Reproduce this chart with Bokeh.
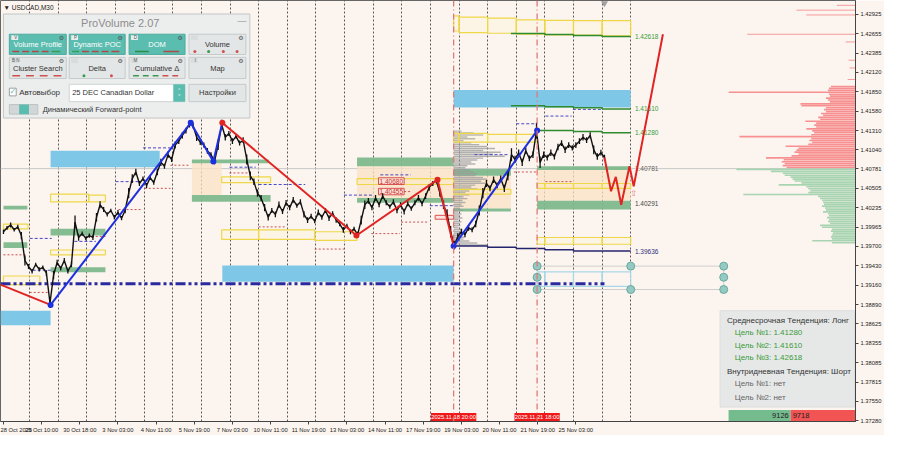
from bokeh.plotting import figure
from bokeh.models import Range1d, FixedTicker, PrintfTickFormatter, Span
from bokeh.core.properties import value
from bokeh.embed import file_html
from bokeh.resources import INLINE

BG = "#fcf5ef"
FONT = "Liberation Sans"

# ---------------- DATA ----------------
symbol_title = "\u25bc USDCAD,M30"
bar_step = 6            # M30 bars between sampled closes (bar 0 = 28 Oct 2025 02:00)
closes = [
    1.39904, 1.39958, 1.39998, 1.39931, 1.39971, 1.39851, 1.39503, 1.39422, 1.39355, 1.39449,
    1.39382, 1.39409, 1.39329, 1.38914, 1.39302, 1.39476, 1.39396, 1.39503, 1.39355, 1.39449,
    1.40038, 1.39824, 1.39878, 1.39811, 1.39851, 1.39824, 1.40105, 1.40279, 1.40212, 1.40145,
    1.40199, 1.40105, 1.40172, 1.40092, 1.40199, 1.40440, 1.40641, 1.40734, 1.40574, 1.40641,
    1.40547, 1.40654, 1.40587, 1.40734, 1.40868, 1.40815, 1.40975, 1.40908, 1.41109, 1.41163,
    1.41243, 1.41310, 1.41404, 1.41377, 1.41216, 1.41149, 1.41109, 1.41029, 1.40975, 1.40881,
    1.41109, 1.41390, 1.41216, 1.41270, 1.41163, 1.41230, 1.41136, 1.41176, 1.40908, 1.40681,
    1.40600, 1.40440, 1.40373, 1.40239, 1.40105, 1.40199, 1.40145, 1.40279, 1.40185, 1.40306,
    1.40239, 1.40346, 1.40266, 1.40319, 1.40145, 1.40065, 1.40118, 1.40052, 1.40172, 1.40105,
    1.40199, 1.40092, 1.40159, 1.40065, 1.40011, 1.39931, 1.39985, 1.39904, 1.39944, 1.39864,
    1.40065, 1.40279, 1.40333, 1.40239, 1.40373, 1.40279, 1.40400, 1.40306, 1.40252, 1.40319,
    1.40199, 1.40279, 1.40185, 1.40293, 1.40226, 1.40306, 1.40373, 1.40293, 1.40400, 1.40520,
    1.40574, 1.40614, 1.40440, 1.40279, 1.40145, 1.39904, 1.39717, 1.39837, 1.39904, 1.39864,
    1.39958, 1.39931, 1.40011, 1.40199, 1.40440, 1.40574, 1.40507, 1.40627, 1.40547, 1.40641,
    1.40507, 1.40681, 1.40975, 1.40908, 1.41002, 1.40868, 1.41029, 1.40922, 1.40975, 1.41310,
    1.40868, 1.40975, 1.40935, 1.41002, 1.40948, 1.41082, 1.41136, 1.41042, 1.41109, 1.41069,
    1.41109, 1.41163, 1.41216, 1.41176, 1.41243, 1.41042, 1.40948, 1.41002, 1.40935,
]
# high-low range of each sampled stretch, in pips
bar_ranges = [
    6, 5, 7, 5, 6, 10, 14, 7, 6, 5,
    6, 5, 8, 14, 12, 8, 6, 7, 6, 8,
    18, 9, 6, 5, 6, 7, 12, 10, 7, 6,
    5, 6, 7, 6, 8, 14, 12, 9, 7, 6,
    7, 6, 6, 9, 10, 7, 9, 7, 10, 8,
    9, 8, 10, 8, 10, 8, 7, 8, 7, 8,
    14, 14, 9, 7, 8, 6, 7, 8, 14, 12,
    9, 10, 8, 10, 9, 7, 8, 9, 7, 8,
    7, 8, 6, 7, 9, 8, 7, 6, 8, 7,
    7, 8, 6, 7, 6, 8, 6, 7, 6, 8,
    12, 12, 8, 7, 8, 7, 8, 7, 6, 7,
    8, 7, 8, 7, 6, 7, 8, 7, 8, 9,
    7, 8, 10, 12, 14, 16, 12, 9, 8, 7,
    8, 7, 9, 14, 14, 10, 8, 9, 8, 9,
    10, 12, 18, 10, 9, 10, 9, 8, 9, 22,
    16, 9, 8, 9, 8, 9, 8, 9, 8, 7,
    8, 8, 9, 8, 9, 12, 9, 8, 8,
]
pip = 0.0001
bid_price = 1.40781

time_ticks = [0, 64, 128, 192, 256, 320, 384, 448, 512, 576, 640, 704, 768, 832, 896, 960]
time_labels = ["28 Oct 2025", "29 Oct 10:00", "30 Oct 18:00", "3 Nov 03:00", "4 Nov 11:00",
               "5 Nov 19:00", "7 Nov 03:00", "10 Nov 11:00", "11 Nov 19:00", "13 Nov 03:00",
               "14 Nov 11:00", "17 Nov 19:00", "19 Nov 03:00", "20 Nov 11:00", "21 Nov 19:00",
               "25 Nov 03:00"]
day_breaks = [44, 92, 140, 188, 236, 284, 332, 380, 428, 476, 524, 572, 620, 668, 716, 764,
              812, 860, 908, 956, 1004, 1052]
price_ticks = [1.42925, 1.42655, 1.42385, 1.42120, 1.41850, 1.41580, 1.41310, 1.41040, 1.40781,
               1.40505, 1.40235, 1.39965, 1.39700, 1.39430, 1.39160, 1.38890, 1.38625,
               1.38355, 1.38085, 1.37815, 1.37550, 1.37280]
marker_bars = [755, 895]
marker_texts = ["2025.11.18 20:00", "2025.11.21 18:00"]
marker_halfwidth = 38          # in bars
marker_height = 0.00118        # in price

# zigzag
zz_bars = [-5, 79, 314, 352, 367, 592, 728, 755, 895]
zz_prices = [1.39168, 1.38887, 1.41417, 1.40881, 1.41417, 1.39851, 1.40627, 1.39704, 1.41310]
zz_seg_colors = ["red", "blue", "blue", "blue", "red", "red", "red", "blue"]
zz_dot_colors = ["blue", "blue", "blue", "red", "red", "red", "blue", "blue"]
# forecast path
fc_bars = [1008, 1019, 1027, 1036, 1050, 1057, 1106]
fc_prices = [1.40935, 1.40467, 1.40667, 1.40279, 1.40815, 1.40534, 1.42648]

# zones (left bar, right bar, top price, bottom price)
sky_zones = [(79, 262, 1.41029, 1.40801), (-5, 79, 1.38807, 1.38606),
             (367, 755, 1.39436, 1.39208), (755, 1052, 1.41872, 1.41631)]
green_zones = [(0, 40, 1.40266, 1.40212), (0, 40, 1.39757, 1.39677),
               (79, 171, 1.39944, 1.39851), (79, 171, 1.39409, 1.39342),
               (316, 445, 1.40908, 1.40855), (316, 448, 1.40413, 1.40319),
               (593, 755, 1.40935, 1.40815), (593, 755, 1.40373, 1.40306),
               (755, 851, 1.40774, 1.40681), (755, 851, 1.40226, 1.40185),
               (895, 1052, 1.40815, 1.40761), (895, 1052, 1.40333, 1.40212)]
orange_zones = [(316, 366, 1.40855, 1.40413), (593, 755, 1.40815, 1.40373),
                (895, 1052, 1.40761, 1.40333), (755, 851, 1.40681, 1.40226)]
yellow_boxes = [(79, 143, 1.40427, 1.40319), (143, 171, 1.40413, 1.40319),
                (79, 171, 1.39650, 1.39583), (0, 61, 1.39289, 1.39168),
                (0, 41, 1.40011, 1.39944), (366, 448, 1.40667, 1.40587),
                (366, 428, 1.39931, 1.39797), (428, 522, 1.39931, 1.39797),
                (522, 593, 1.39904, 1.39784), (593, 755, 1.40641, 1.40560),
                (755, 764, 1.41270, 1.41149), (764, 812, 1.41270, 1.41149),
                (812, 860, 1.41256, 1.41149), (860, 895, 1.41256, 1.41149),
                (755, 851, 1.40493, 1.40427),
                (755, 764, 1.42903, 1.42693), (764, 812, 1.42885, 1.42671),
                (812, 860, 1.42872, 1.42662), (860, 908, 1.42849, 1.42648),
                (908, 956, 1.42840, 1.42639), (956, 1004, 1.42836, 1.42635),
                (1004, 1052, 1.42836, 1.42626),
                (895, 908, 1.40574, 1.40507), (908, 956, 1.40574, 1.40507),
                (956, 1004, 1.40574, 1.40507), (1004, 1052, 1.40574, 1.40507),
                (895, 908, 1.39824, 1.39730), (908, 956, 1.39824, 1.39730),
                (956, 1004, 1.39824, 1.39730), (1004, 1052, 1.39824, 1.39730)]
cyan_boxes = [(895, 908, 1.39346, 1.39145), (908, 956, 1.39346, 1.39145),
              (956, 1004, 1.39346, 1.39145), (1004, 1052, 1.39346, 1.39145)]
red_boxes = [(629, 672, 1.40654, 1.40560), (629, 672, 1.40507, 1.40417), (724, 755, 1.40132, 1.40078)]
red_box_texts = ["1.40680", "1.40455"]

blue_dashes = [(234, 280, 1.41069), (188, 231, 1.40600), (44, 81, 1.39811), (49, 82, 1.39369),
               (119, 155, 1.39770), (379, 423, 1.40801), (428, 506, 1.40560), (571, 621, 1.40413),
               (632, 683, 1.40694), (715, 755, 1.40266), (860, 895, 1.41404), (909, 953, 1.41511),
               (955, 1003, 1.41604), (790, 846, 1.40975)]
red_dots = [(280, 313, 1.40828), (237, 280, 1.40507), (193, 231, 1.40212), (148, 171, 1.39837),
            (0, 40, 1.39583), (44, 77, 1.39061), (379, 412, 1.40721), (428, 473, 1.39971),
            (617, 665, 1.39878), (522, 571, 1.39663), (667, 711, 1.40038), (856, 895, 1.40734),
            (909, 955, 1.40600), (672, 683, 1.40462)]

# target step lines
t3_bars = [851, 908, 956, 1004, 1052]
t3_prices = [1.42660, 1.42645, 1.42630, 1.42618, 1.42618]
t2_bars = [851, 908, 956, 1004, 1052]
t2_prices = [1.41655, 1.41642, 1.41625, 1.41610, 1.41610]
t1_bars = [895, 956, 1004, 1052]
t1_prices = [1.41310, 1.41295, 1.41280, 1.41280]
low_bars = [755, 812, 860, 908, 956, 1052]
low_prices = [1.39704, 1.39690, 1.39672, 1.39655, 1.39636, 1.39636]
navy_level = 1.39182
level_labels = ["1.42618", "1.41610", "1.41280", "1.40781", "1.40291", "1.39636"]
level_values = [1.42618, 1.41610, 1.41280, 1.40781, 1.40291, 1.39636]
level_colors = ["#3a9a3a", "#3a9a3a", "#3a9a3a", "#666666", "#444444", "#303080"]

# circles at right
circ_bars = [895, 895, 895, 1052, 1052, 1208, 1208, 1208]
circ_prices = [1.39426, 1.39271, 1.39101, 1.39426, 1.39101, 1.39426, 1.39271, 1.39101]

# volume profiles (bin size in price, lengths in volume units top->bottom)
bin_size = 0.000268
ask_volumes = [25, 27, 28, 129, 27, 26, 30, 28, 26, 56, 55, 30, 32, 30, 35, 33, 38, 36, 51, 40,
               42, 40, 50, 44, 42, 45, 118, 45, 47, 44, 48, 71, 58, 60, 62, 58, 65, 91, 73, 75,
               72, 74, 70]
bid_volumes = [121, 86, 74, 72, 66, 64, 62, 55, 78, 50, 48, 46, 48, 114, 38, 36, 34, 33, 32, 34,
               31, 30, 33, 28, 27, 29, 27, 28, 26, 36, 34, 24, 25, 23, 24, 25, 24, 44, 24]
session_base = 1.39704
session_volumes = [8, 20, 30, 14, 22, 10, 18, 26, 34, 42, 30, 48, 40, 52, 30, 24, 18, 22, 14, 12,
                   16, 20, 24, 22, 30, 34, 28, 32, 22, 18, 24, 16, 12, 16, 10, 14, 9, 12, 8, 10,
                   6, 9, 5, 8, 6, 9, 5, 8, 6, 7, 5, 9, 6, 10, 8, 12, 10, 16, 24, 34]
vol_scale = 1.65
thin_ask_prices = [1.43050, 1.42983, 1.42916, 1.42648, 1.42541, 1.42287, 1.42180, 1.42019]
thin_ask_volumes = [19, 60, 50, 110, 10, 7, 6, 8]

info_lines = ["Среднесрочная Тенденция: Лонг", "Цель №1: 1.41280", "Цель №2: 1.41610",
              "Цель №3: 1.42618", "Внутридневная Тенденция: Шорт", "Цель №1: нет", "Цель №2: нет"]
info_colors = ["#333333", "#3a9a3a", "#3a9a3a", "#3a9a3a", "#333333", "#666666", "#666666"]
info_indent = [0, 1, 1, 1, 0, 1, 1]
delta_buy, delta_sell = "9126", "9718"

# ---------------- FIGURE ----------------
X0, X1 = -5, 1429
Y0, Y1 = 1.37267, 1.43117
p = figure(width=884, height=435, x_range=Range1d(X0, X1), y_range=Range1d(Y0, Y1),
           output_backend="svg", toolbar_location=None, y_axis_location="right",
           background_fill_color=BG, border_fill_color=BG,
           min_border_left=0, min_border_top=0, min_border_right=0, min_border_bottom=0)
p.outline_line_color = "#666666"
p.extra_x_ranges = {"sx": Range1d(0, 871)}
p.extra_y_ranges = {"sy": Range1d(437, 0)}

p.xaxis.ticker = FixedTicker(ticks=time_ticks)
p.xaxis.major_label_overrides = {t: s for t, s in zip(time_ticks, time_labels)}
p.xaxis.major_label_text_align = "left"
p.yaxis.ticker = FixedTicker(ticks=price_ticks)
p.yaxis.formatter = PrintfTickFormatter(format="%.5f")
for ax in (p.xaxis[0], p.yaxis[0]):
    ax.major_label_text_font = FONT
    ax.major_label_text_font_size = "5.8px"
    ax.major_label_text_color = "#222222"
    ax.axis_line_color = "#444444"
    ax.major_tick_line_color = "#444444"
    ax.major_tick_out = 3
    ax.major_tick_in = 0
    ax.minor_tick_out = 0
    ax.minor_tick_in = 0
    ax.major_label_standoff = 2
p.ygrid.visible = False
p.xgrid.ticker = FixedTicker(ticks=day_breaks)
p.xgrid.grid_line_color = "#333333"
p.xgrid.grid_line_dash = "2 2"
p.xgrid.grid_line_alpha = 0.8


def quads(rows, **kw):
    l, r, t, b = zip(*rows)
    p.quad(left=list(l), right=list(r), top=list(t), bottom=list(b), **kw)


def hsegs(rows, **kw):
    x0, x1, y = zip(*rows)
    p.segment(x0=list(x0), x1=list(x1), y0=list(y), y1=list(y), **kw)


# bid line
p.add_layout(Span(location=bid_price, dimension="width", line_color="#c8c8c8", line_width=1, level="underlay"))

# zones
quads(orange_zones, fill_color="#fbe2c4", fill_alpha=0.75, line_color=None)
quads(sky_zones, fill_color="#7ec7e6", fill_alpha=1.0, line_color=None)
quads(green_zones, fill_color="#7fb88c", fill_alpha=0.95, line_color=None)

# session volume profile (gray)
n = len(session_volumes)
tops = [session_base + (n - i) * bin_size for i in range(n)]
p.quad(left=[marker_bars[0]] * n, right=[marker_bars[0] + v * vol_scale for v in session_volumes],
       top=tops, bottom=[t - bin_size * 0.75 for t in tops], fill_color="#9a9a9a", fill_alpha=0.75,
       line_color=None)

# right-hand market profile
na = len(ask_volumes)
a_tops = [bid_price + (na - i) * bin_size for i in range(na)]
p.quad(left=[X1 - v * vol_scale for v in ask_volumes], right=[X1] * na, top=a_tops,
       bottom=[t - bin_size * 0.85 for t in a_tops], fill_color="#f79191", line_color=None)
nb = len(bid_volumes)
b_tops = [bid_price - i * bin_size for i in range(nb)]
p.quad(left=[X1 - v * vol_scale for v in bid_volumes], right=[X1] * nb, top=b_tops,
       bottom=[t - bin_size * 0.85 for t in b_tops], fill_color="#a8d4b2", line_color=None)
p.segment(x0=[X1 - v * vol_scale for v in thin_ask_volumes], x1=[X1] * len(thin_ask_volumes),
          y0=thin_ask_prices, y1=thin_ask_prices, line_color="#f49a9a", line_width=1)

# outlined boxes
quads(yellow_boxes, fill_color="#fff3a0", fill_alpha=0.12, line_color="#eed84a", line_width=1.2)
quads(cyan_boxes, fill_color=None, line_color="#a9d8e8", line_width=1.2)
quads(red_boxes, fill_color="#fde3dc", fill_alpha=0.9, line_color="#d85050", line_width=1)
p.text(x=[650.5, 650.5], y=[(1.40654 + 1.40560) / 2, (1.40507 + 1.40417) / 2], text=red_box_texts,
       text_font=value(FONT), text_font_size="6.5px", text_color="#cc3030",
       text_align="center", text_baseline="middle")

# dashed helper lines
hsegs(blue_dashes, line_color="#4646c8", line_width=1, line_dash="3 2")
hsegs(red_dots, line_color="#c85050", line_width=1, line_dash="2 2")

# target levels
p.step(x=t3_bars, y=t3_prices, mode="after", line_color="#2e8b2e", line_width=1.5)
p.step(x=t2_bars, y=t2_prices, mode="after", line_color="#2e8b2e", line_width=1.5)
p.step(x=t1_bars, y=t1_prices, mode="after", line_color="#2e8b2e", line_width=1.5)
p.step(x=low_bars, y=low_prices, mode="after", line_color="#24246e", line_width=1.5)
p.text(x=[1059] * len(level_labels), y=level_values, text=level_labels, text_color=level_colors,
       text_font=value(FONT), text_font_size="6.5px", text_baseline="middle", text_align="left")
p.text(x=[1057], y=[1.40440], text=["\u21e7"], text_font=value("DejaVu Sans"),
       text_font_size="8px", text_color="#f07070", text_align="center", text_baseline="middle")

# navy dash-dot line
p.line(x=[X0, bar_step * (len(closes) - 1)], y=[navy_level, navy_level], line_color="#2a2aa0",
       line_width=3, line_dash="10 3 3 3 3 3")

# right-hand circles
p.segment(x0=[circ_bars[0], circ_bars[0], circ_bars[-1]], x1=[circ_bars[-1], circ_bars[-1], circ_bars[-1]],
          y0=[circ_prices[0], circ_prices[2], circ_prices[0]], y1=[circ_prices[0], circ_prices[2], circ_prices[2]],
          line_color="#cfcfcf", line_width=1)
p.scatter(x=circ_bars, y=circ_prices, marker="circle", size=8, fill_color="#93cbc3",
          line_color="#6aa8a0", line_width=1)

# price: sampled bars (high-low) and closes
bx = [i * bar_step for i in range(len(closes))]
p.segment(x0=bx, x1=bx, y0=[c - r * pip / 2 for c, r in zip(closes, bar_ranges)],
          y1=[c + r * pip / 2 for c, r in zip(closes, bar_ranges)], line_color="#111111", line_width=1.3)
p.line(x=bx, y=closes, line_color="#111111", line_width=1.4)

# zigzag
BLUE, RED = "#1e2fe0", "#e02424"
for i, c in enumerate(zz_seg_colors):
    p.line(x=zz_bars[i:i + 2], y=zz_prices[i:i + 2], line_color=BLUE if c == "blue" else RED,
           line_width=2)
p.scatter(x=zz_bars[1:], y=zz_prices[1:], marker="circle", size=6,
          fill_color=[BLUE if c == "blue" else RED for c in zz_dot_colors], line_color=None)
p.line(x=fc_bars, y=fc_prices, line_color=RED, line_width=2)

# chart-shift marker
p.scatter(x=[bar_step * (len(closes) - 1)], y=[1.43080], marker="inverted_triangle", size=7,
          fill_color="#a0a0a0", line_color=None)

# red time markers (vertical lines + time boxes on the bottom edge)
for b in marker_bars:
    p.add_layout(Span(location=b, dimension="height", line_color="#e07878", line_width=1.3,
                      line_dash="6 3 1 3"))
p.quad(left=[b - marker_halfwidth for b in marker_bars], right=[b + marker_halfwidth for b in marker_bars],
       bottom=[Y0] * 2, top=[Y0 + marker_height] * 2, fill_color="#f01818", line_color=None)
p.text(x=marker_bars, y=[Y0 + marker_height / 2] * 2, text=marker_texts, text_font=value(FONT),
       text_font_size="5.8px", text_color="white", text_align="center", text_baseline="middle")

# ---------------- overlays in screen space (sx, sy) ----------------
S = dict(x_range_name="sx", y_range_name="sy")


def sbox(l, r, t, b, fill, line=None, alpha=1.0, lw=1):
    p.quad(left=[l], right=[r], top=[t], bottom=[b], fill_color=fill, fill_alpha=alpha,
           line_color=line, line_width=lw, **S)


def stext(x, y, t, size, color, align="left", font=FONT):
    p.text(x=[x], y=[y], text=[t], text_font=value(font), text_font_size=size, text_color=color,
           text_align=align, text_baseline="middle", **S)


stext(3, 7, symbol_title, "6.5px", "#222222")

# ProVolume panel
sbox(3, 254, 14, 122, "#eceeee", "#c2c6c6")
stext(122, 23, "ProVolume 2.07", "11px", "#8c8c8c", "center")
stext(246, 21, "\u2014", "9px", "#8c8c8c", "center")
buttons = [("Volume Profile", 9, 67, 35, 56, True), ("Dynamic POC", 70, 127, 35, 56, True),
           ("DOM", 131, 188, 35, 56, True), ("Volume", 192, 250, 35, 56, False),
           ("Cluster Search", 9, 67, 59, 81, False), ("Delta", 70, 127, 59, 81, False),
           ("Cumulative \u0394", 131, 188, 59, 81, False), ("Map", 192, 250, 59, 81, False)]
for lab, l, r, t, b, act in buttons:
    sbox(l, r, t, b, "#5bbdb0" if act else "#e3e6e6", "#4eaa9e" if act else "#c6caca")
    stext((l + r) / 2, (t + b) / 2 + 0.5, lab, "7.5px", "white" if act else "#333333", "center")
    sbox(l + 2, l + 9, t + 1, t + 6, "#e6eeee" if act else "#d8dcdc", None)
    stext(r - 5, t + 3.5, "\u2699", "6px", "#555555", "center", "DejaVu Sans")
tags = [("V", 15.5, 38.5), ("P", 76.5, 38.5), ("D", 137.5, 38.5), ("B N", 15.5, 62.5),
        ("M", 137.5, 62.5), ("I", 198.5, 62.5)]
for t, x, y in tags:
    stext(x, y, t, "4.5px", "#555555", "center")
# indicator marks
ind = [(12, 19, 53, "#b04848"), (22, 29, 53, "#b04848"), (32, 39, 53, "#b04848"), (42, 49, 53, "#b04848"),
       (52, 61, 53, "#3a9a50"), (73, 80, 53, "#3a9a50"), (83, 90, 53, "#b04848"), (93, 100, 53, "#b04848"),
       (103, 110, 53, "#b04848"), (113, 121, 53, "#b04848"), (137, 151, 53, "#2f8a44"),
       (166, 182, 53, "#b04848"), (12, 20, 78, "#d05050"), (26, 34, 78, "#d05050"),
       (40, 48, 78, "#d05050"), (54, 62, 78, "#d05050"), (135, 141, 78, "#3a9a50"),
       (145, 151, 78, "#3a9a50"), (155, 161, 78, "#3a9a50"), (165, 171, 78, "#d05050"),
       (175, 181, 78, "#d05050")]
for x0, x1, y, c in ind:
    p.segment(x0=[x0], x1=[x1], y0=[y], y1=[y], line_color=c, line_width=1.5, **S)
p.scatter(x=[198, 212, 227, 241, 85, 113], y=[53, 53, 53, 53, 78, 78], marker="circle", size=3,
          fill_color=["#d05050", "#3a9a50", "#d05050", "#d05050", "#3a9a50", "#d05050"], line_color=None, **S)
# row 3
sbox(9, 16, 91, 99, "white", "#9aa0a0")
stext(12.5, 94.5, "\u2713", "8px", "#5bbdb0", "center", "DejaVu Sans")
stext(19, 95.5, "Автовыбор", "8px", "#333333")
sbox(70, 188, 87, 105, "white", "#cfd3d3")
stext(73, 96, "25 DEC Canadian Dollar", "7.5px", "#333333")
sbox(176, 188, 87, 105, "#5bbdb0", None)
stext(182, 93, "\u02c4", "6px", "#ffffff", "center", "DejaVu Sans")
stext(182, 100, "\u02c5", "6px", "#ffffff", "center", "DejaVu Sans")
sbox(192, 250, 87, 105, "#e3e6e6", "#c6caca")
stext(221, 96, "Настройки", "7.5px", "#333333", "center")
# row 4
sbox(9, 38, 108, 118, "#d2d6d6", "#c0c4c4")
sbox(19, 29, 108, 118, "#5bbdb0", None)
stext(43, 113.5, "Динамический Forward-point", "7.5px", "#333333")

# info box
sbox(733, 870, 322, 422, "#e5e7e7", "#dcdede", alpha=0.95)
info_y = [331.7, 345, 357.7, 370.5, 385, 397.5, 412]
for t, c, ind_, y in zip(info_lines, info_colors, info_indent, info_y):
    stext(740 + 8 * ind_, y, t, "8px", c)
sbox(741.7, 805, 425, 437, "#74bb8e", None)
sbox(805, 871, 425, 437, "#f25454", None)
stext(803, 431, delta_buy, "7.5px", "#222222", "right")
stext(807, 431, delta_sell, "7.5px", "#222222", "left")

open("out.html", "w").write(file_html(p, INLINE))
